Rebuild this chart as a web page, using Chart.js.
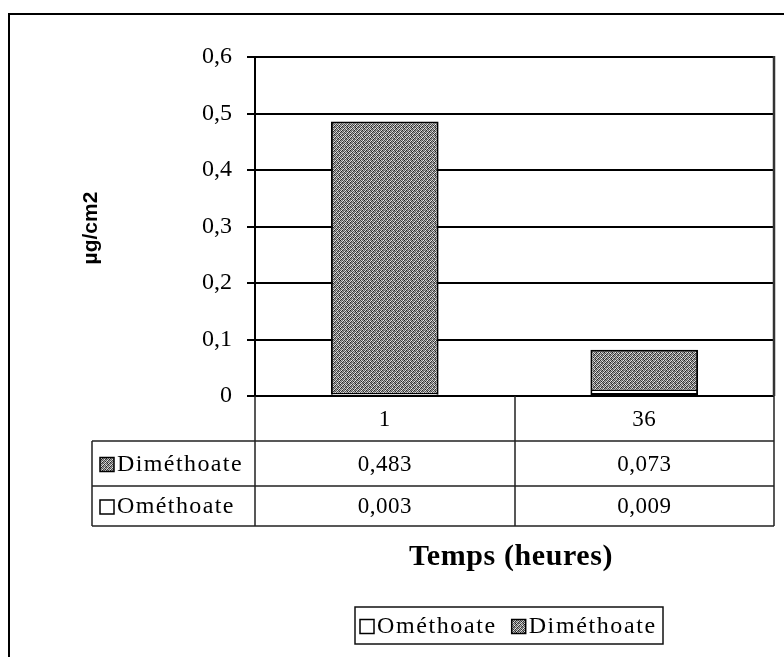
<!DOCTYPE html>
<html>
<head>
<meta charset="utf-8">
<script src="https://cdn.jsdelivr.net/npm/chart.js@4/dist/chart.umd.min.js"></script>
<style>
  html, body { margin: 0; padding: 0; background: #fff; }
  canvas { display: block; }
</style>
</head>
<body>
<canvas id="c" width="784" height="657"></canvas>
<script>
// Residues per time point (µg/cm2)
const categories = ['1', '36'];
const omethoate = [0.003, 0.009];
const dimethoate = [0.483, 0.073];
const yTickLabels = ['0', '0,1', '0,2', '0,3', '0,4', '0,5', '0,6'];
const seriesNames = ['Ométhoate', 'Diméthoate'];
const xTitle = 'Temps (heures)';
const yTitle = 'µg/cm2';

const SERIF = "'Liberation Serif', 'Times New Roman', serif";
const SANS = "'Liberation Sans', Arial, sans-serif";
const fmt = v => v.toFixed(3).replace('.', ',');

const canvas = document.getElementById('c');
const ctx0 = canvas.getContext('2d');

// Stippled grey fill used for the Diméthoate bars and its legend keys
function makeStipple(ctx) {
  const tones = [
    [0x30, 0xd0, 0x68, 0xa8, 0x20, 0xc0, 0x78, 0xe8],
    [0xb8, 0x50, 0xe8, 0x40, 0x98, 0x58, 0xd8, 0x38],
    [0x70, 0xa0, 0x28, 0xc8, 0x60, 0xe0, 0x30, 0x90],
    [0xe0, 0x38, 0x88, 0x58, 0xd0, 0x20, 0xb0, 0x60],
    [0x48, 0xc0, 0x60, 0xf0, 0x38, 0x98, 0x50, 0xc8],
    [0xa8, 0x28, 0xd8, 0x30, 0xb8, 0x70, 0xe0, 0x40],
    [0x60, 0xe8, 0x40, 0x98, 0x50, 0xd0, 0x28, 0xa0],
    [0xc8, 0x58, 0xb0, 0x20, 0xe8, 0x38, 0x88, 0x50]
  ];
  const N = tones.length;
  const c = document.createElement('canvas');
  c.width = N; c.height = N;
  const g = c.getContext('2d');
  const img = g.createImageData(N, N);
  for (let y = 0; y < N; y++) {
    for (let x = 0; x < N; x++) {
      const i = (y * N + x) * 4;
      const t = tones[y][x];
      img.data[i] = t; img.data[i + 1] = t; img.data[i + 2] = t; img.data[i + 3] = 255;
    }
  }
  g.putImageData(img, 0, 0);
  return ctx.createPattern(c, 'repeat');
}
const stipple = makeStipple(ctx0);

function wordFont(ctx, size, bold, spacing) {
  ctx.font = (bold ? 'bold ' : '') + size + 'px ' + SERIF;
  if ('letterSpacing' in ctx) ctx.letterSpacing = spacing + 'px';
}

// Frame, axis titles, data table and legend drawn around the plot
const decorations = {
  id: 'decorations',
  afterDraw(chart) {
    const { ctx, chartArea: a, scales: { x } } = chart;
    const ds = chart.data.datasets;
    ctx.save();

    // outer frame
    ctx.strokeStyle = '#000';
    ctx.lineWidth = 2;
    ctx.beginPath();
    ctx.moveTo(9, 657);
    ctx.lineTo(9, 14);
    ctx.lineTo(784, 14);
    ctx.stroke();

    // right side of plot box
    ctx.strokeStyle = '#333';
    ctx.lineWidth = 2.5;
    ctx.beginPath();
    ctx.moveTo(a.right, a.top - 1);
    ctx.lineTo(a.right, a.bottom);
    ctx.stroke();

    // data table
    const n = categories.length;
    const step = (a.right - a.left) / n;
    const tableLeft = 92;
    const yHead = a.bottom, yRow1 = a.bottom + 45, yRow2 = a.bottom + 90, yEnd = a.bottom + 130;
    ctx.strokeStyle = '#222';
    ctx.lineWidth = 1.5;
    ctx.beginPath();
    for (let i = 0; i <= n; i++) {
      const bx = Math.round(a.left + i * step);
      ctx.moveTo(bx, yHead);
      ctx.lineTo(bx, yEnd);
    }
    ctx.moveTo(tableLeft, yRow1);
    ctx.lineTo(tableLeft, yEnd);
    [yRow1, yRow2, yEnd].forEach(yy => {
      ctx.moveTo(tableLeft, yy);
      ctx.lineTo(a.right, yy);
    });
    ctx.stroke();

    ctx.fillStyle = '#000';
    ctx.textAlign = 'center';
    ctx.textBaseline = 'middle';
    wordFont(ctx, 23, false, 0.5);
    categories.forEach((c, i) => ctx.fillText(c, x.getPixelForValue(i), (yHead + yRow1) / 2 + 1));

    // rows listed top series first
    const rows = [
      { d: ds[1], top: yRow1, bottom: yRow2 },
      { d: ds[0], top: yRow2, bottom: yEnd }
    ];
    rows.forEach(r => {
      const cy = (r.top + r.bottom) / 2 + 1;
      ctx.textAlign = 'center';
      wordFont(ctx, 23, false, 0.5);
      r.d.data.forEach((v, i) => ctx.fillText(fmt(v), x.getPixelForValue(i), cy));
      drawKey(ctx, r.d, 100, cy - 7, 14);
      ctx.textAlign = 'left';
      wordFont(ctx, 24, false, 1.4);
      ctx.fillText(r.d.label, 117, cy);
    });

    // axis titles
    ctx.textAlign = 'center';
    wordFont(ctx, 30, true, 0.6);
    ctx.fillText(xTitle, 511, 557);

    ctx.save();
    if ('letterSpacing' in ctx) ctx.letterSpacing = '0px';
    ctx.translate(91, 228);
    ctx.rotate(-Math.PI / 2);
    ctx.font = 'bold 21px ' + SANS;
    ctx.fillText(yTitle, 0, 0);
    ctx.restore();

    // legend
    const lx0 = 355, lx1 = 663, ly0 = 607, ly1 = 644;
    ctx.strokeStyle = '#111';
    ctx.lineWidth = 1.5;
    ctx.strokeRect(lx0, ly0, lx1 - lx0, ly1 - ly0);
    wordFont(ctx, 24, false, 1.6);
    ctx.textAlign = 'left';
    const ly = (ly0 + ly1) / 2 + 1;
    let cx = 360;
    ds.forEach(d => {
      drawKey(ctx, d, cx, ly - 7, 14);
      cx += 17;
      ctx.fillText(d.label, cx, ly);
      cx += ctx.measureText(d.label).width + 15;
    });

    if ('letterSpacing' in ctx) ctx.letterSpacing = '0px';
    ctx.restore();
  }
};

function drawKey(ctx, d, x, y, s) {
  ctx.save();
  ctx.fillStyle = d.backgroundColor;
  ctx.fillRect(x, y, s, s);
  ctx.strokeStyle = '#000';
  ctx.lineWidth = 1.5;
  ctx.strokeRect(x, y, s, s);
  ctx.restore();
}

new Chart(canvas, {
  type: 'bar',
  data: {
    labels: categories,
    datasets: [
      {
        label: seriesNames[0],
        data: omethoate,
        backgroundColor: '#ffffff',
        borderColor: '#000',
        borderWidth: { top: 0, left: 2, right: 2, bottom: 2 },
        borderSkipped: false
      },
      {
        label: seriesNames[1],
        data: dimethoate,
        backgroundColor: stipple,
        borderColor: '#000',
        borderWidth: { top: 2, left: 2, right: 2, bottom: 1.5 },
        borderSkipped: false
      }
    ]
  },
  options: {
    responsive: false,
    animation: false,
    devicePixelRatio: 1,
    layout: { padding: { left: 0, top: 57, right: 10, bottom: 261 } },
    datasets: { bar: { categoryPercentage: 1, barPercentage: 0.415 } },
    plugins: { legend: { display: false }, tooltip: { enabled: false } },
    scales: {
      x: { stacked: true, display: false },
      y: {
        stacked: true,
        min: 0,
        max: 0.6,
        afterFit: s => { s.width = 255; },
        ticks: {
          stepSize: 0.1,
          padding: 15,
          color: '#000',
          font: { family: SERIF, size: 24 },
          callback: (v, i) => yTickLabels[i]
        },
        grid: { color: '#000', lineWidth: 2, tickLength: 8, drawTicks: true },
        border: { display: true, color: '#000', width: 2 }
      }
    }
  },
  plugins: [decorations]
});
</script>
</body>
</html>
